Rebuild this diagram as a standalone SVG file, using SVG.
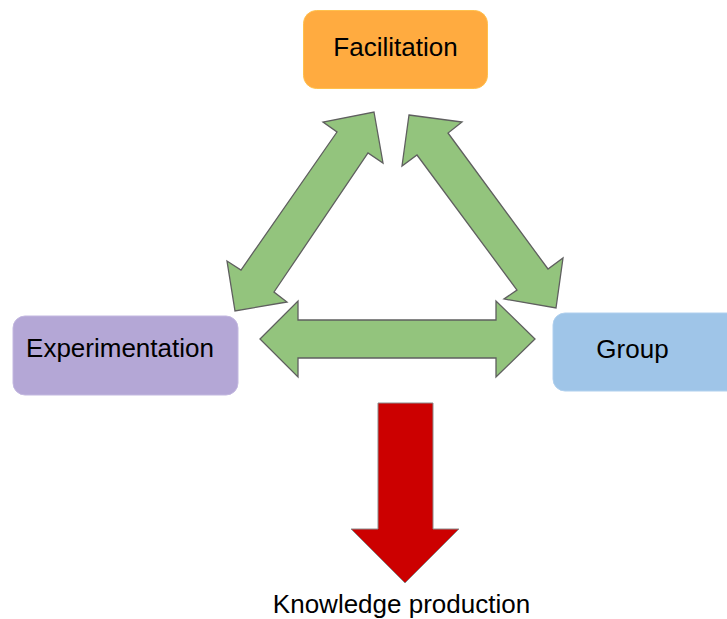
<svg xmlns="http://www.w3.org/2000/svg" width="727" height="619" viewBox="0 0 727 619">
<style>
.lbl{font-family:"Liberation Sans",Arial,sans-serif;font-size:26px;fill:#000}
.garrow{fill:#93c47d;stroke:#5f5f5f;stroke-width:1.3;stroke-linejoin:miter}
.rarrow{fill:#cc0000;stroke:#8a8a8a;stroke-width:1}
</style>
<rect width="727" height="619" fill="#fff"/>
<g id="facilitation">
<rect x="303.5" y="10.5" width="184" height="78" rx="13" fill="#ffab40" stroke="#ffc04d" stroke-width="1"/>
<text class="lbl" x="395.5" y="55.5" text-anchor="middle">Facilitation</text>
</g>
<g id="experimentation">
<rect x="13" y="316" width="225" height="79" rx="12" fill="#b4a7d6" stroke="#c3b8e0" stroke-width="1"/>
<text class="lbl" x="120" y="356.5" text-anchor="middle">Experimentation</text>
</g>
<g id="group">
<rect x="553" y="313" width="190" height="78" rx="12" fill="#9fc5e8" stroke="#b0d0ee" stroke-width="1"/>
<text class="lbl" x="632.5" y="357.5" text-anchor="middle">Group</text>
</g>
<g id="connectors">
<polygon class="garrow" points="374,112 383,163 368,153 274,292 287,302 235,311 227,261 241,270 337,132 323,122"/>
<polygon class="garrow" points="409,115 462,122 448,133 548,269 563,258 556,308 504,299 517,290 417,155 402,166"/>
<polygon class="garrow" points="260,339 298,301 298,320 496,320 496,301 535,339 496,377 496,358 298,358 298,377"/>
<polygon class="rarrow" points="378,403 433,403 433,529 459,529 405,583 351,529 378,529"/>
</g>
<text class="lbl" x="401.5" y="613" text-anchor="middle">Knowledge production</text>
</svg>
